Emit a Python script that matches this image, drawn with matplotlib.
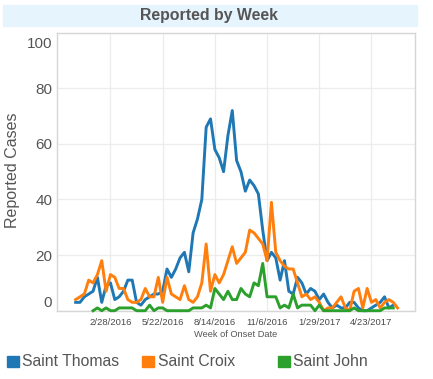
import matplotlib
matplotlib.use("Agg")
import matplotlib.pyplot as plt
import matplotlib.dates as mdates
import matplotlib.transforms as mtransforms
from matplotlib.patches import Rectangle
import numpy as np

plt.rcParams["font.family"] = ["Liberation Sans", "DejaVu Sans"]

# weekly counts, weeks starting 2016-01-03
start_week = np.datetime64("2016-01-03")
saint_thomas = [3, 3, 5, 6, 7, 12, 3, 9, 10, 4,
                5, 7, 11, 11, 3, 2, 4, 5, 6, 6,
                7, 15, 12, 15, 19, 21, 14, 28, 33, 40,
                66, 69, 58, 55, 50, 63, 72, 54, 50, 43,
                47, 45, 42, 29, 18, 21, 19, 11, 18, 7,
                6, 12, 10, 6, 8, 7, 4, 6, 3, 1,
                2, 1, 1, 3, 3, 1, 0, 0, 1, 2,
                3, 5, 1, 2]
saint_croix = [4, 5, 6, 11, 10, 13, 18, 7, 13, 12,
               8, 8, 4, 3, 3, 4, 8, 5, 5, 12,
               3, 12, 6, 5, 4, 9, 4, 3, 5, 10,
               24, 7, 13, 10, 13, 18, 23, 17, 19, 21,
               29, 28, 26, 24, 18, 39, 21, 18, 16, 15,
               15, 10, 5, 6, 4, 5, 3, 0, 1, 1,
               3, 5, 1, 0, 7, 8, 1, 8, 3, 4,
               1, 3, 4, 3, 1]
# Saint John reporting begins 4 weeks later
saint_john_offset = 4
saint_john = [0, 1, 0, 1, 0, 0, 1, 1, 1, 1,
              0, 0, 0, 2, 0, 1, 1, 0, 0, 0,
              0, 0, 0, 1, 1, 1, 2, 1, 8, 6,
              4, 7, 4, 4, 8, 6, 5, 10, 9, 17,
              5, 5, 5, 1, 2, 1, 6, 1, 2, 2,
              2, 0, 2, 0, 0, 0, 0, 0, 0, 0,
              1, 0, 0, 0, 0, 0, 0, 1, 1, 1]

series_names = ["Saint Thomas", "Saint Croix", "Saint John"]
colors = ["#1f77b4", "#ff7f0e", "#2ca02c"]
tick_dates = ["2016-02-28", "2016-05-22", "2016-08-14", "2016-11-06", "2017-01-29", "2017-04-23"]
tick_labels = ["2/28/2016", "5/22/2016", "8/14/2016", "11/6/2016", "1/29/2017", "4/23/2017"]


def weeks(n, offset=0):
    return mdates.date2num(start_week + np.arange(offset, offset + n) * np.timedelta64(7, "D"))


fig = plt.figure(figsize=(4.33, 3.79), dpi=100)
ax = fig.add_axes([57 / 433, 1 - 310.7 / 379, 358 / 433, 278 / 379])

ax.plot(weeks(len(saint_thomas)), saint_thomas, color=colors[0], lw=2.1, clip_on=False, zorder=3)
ax.plot(weeks(len(saint_croix)), saint_croix, color=colors[1], lw=2.1, clip_on=False, zorder=3)
ax.plot(weeks(len(saint_john), saint_john_offset), saint_john, color=colors[2], lw=2.1,
        clip_on=False, zorder=3)

x0 = mdates.date2num(np.datetime64("2015-12-04"))
x1 = mdates.date2num(np.datetime64("2017-07-02"))
ax.set_xlim(x0, x1)
ax.set_ylim(0, 100)

ax.set_xticks([mdates.date2num(np.datetime64(d)) for d in tick_dates])
ax.set_xticklabels(tick_labels, fontsize=6.8, color="#4a4a4a")
ax.set_yticks([0, 20, 40, 60, 80, 100])
ax.set_yticklabels(["0", "20", "40", "60", "80", "100"], fontsize=11, color="#555555")
ax.tick_params(axis="both", length=0)
ax.tick_params(axis="y", pad=3.5)
ax.tick_params(axis="x", pad=5)

# keep the end labels inside the plot box
labs = ax.get_yticklabels()
labs[0].set_transform(labs[0].get_transform() + mtransforms.ScaledTranslation(0, 0.09, fig.dpi_scale_trans))
labs[-1].set_transform(labs[-1].get_transform() + mtransforms.ScaledTranslation(0, -0.10, fig.dpi_scale_trans))

ax.grid(True, color="#ececec", lw=0.9)
ax.set_axisbelow(True)
for sp in ax.spines.values():
    sp.set_color("#d6d6d6")
    sp.set_linewidth(1)

ax.set_ylabel("Reported Cases", fontsize=11.5, color="#555555")
ax.yaxis.set_label_coords(-0.102, 0.504)
ax.text(0.5, -0.087, "Week of Onset Date", transform=ax.transAxes, ha="center", va="center",
        fontsize=6.7, color="#555555")

# title band
fig.patches.append(Rectangle((3 / 433, 1 - 26 / 379), 414 / 433, 21 / 379,
                             transform=fig.transFigure, color="#e6f4fd", zorder=0))
fig.text(209 / 433, 1 - 15.5 / 379, "Reported by Week", ha="center", va="center",
         fontsize=11.4, fontweight="bold", color="#555555")

# legend
sq_x = [7, 142, 278]
txt_x = [22.5, 157.5, 293]
for name, c, sx, tx in zip(series_names, colors, sq_x, txt_x):
    fig.patches.append(Rectangle((sx / 433, 1 - 367 / 379), 11.5 / 433, 11.5 / 379,
                                 transform=fig.transFigure, color=c))
    fig.text(tx / 433, 1 - 361 / 379, name, ha="left", va="center", fontsize=11.3, color="#555555")

fig.savefig("out.png", dpi=100)
